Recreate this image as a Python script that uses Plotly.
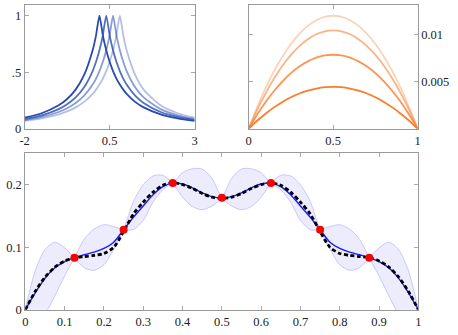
import plotly.graph_objects as go

# ---------------- data: top-left panel ----------------
x_tl = [-2, -1.5, -1, -0.75, -0.5, -0.25, 0, 0.1, 0.2, 0.3, 0.4, 0.5, 0.6, 0.7, 0.8, 0.9, 1,
        1.25, 1.5, 2, 2.5, 3]
y_tl_1 = [0.098, 0.137, 0.207, 0.263, 0.346, 0.476, 0.694, 0.826, 1.0, 0.826, 0.694, 0.592, 0.510,
          0.444, 0.391, 0.346, 0.309, 0.238, 0.189, 0.128, 0.092, 0.069]
y_tl_2 = [0.087, 0.119, 0.174, 0.216, 0.277, 0.367, 0.510, 0.592, 0.694, 0.826, 1.0, 0.826, 0.694,
          0.592, 0.510, 0.444, 0.391, 0.292, 0.227, 0.148, 0.104, 0.077]
y_tl_3 = [0.077, 0.104, 0.148, 0.181, 0.227, 0.292, 0.391, 0.444, 0.510, 0.592, 0.694, 0.826, 1.0,
          0.826, 0.694, 0.592, 0.510, 0.367, 0.277, 0.174, 0.119, 0.087]
y_tl_4 = [0.069, 0.092, 0.128, 0.154, 0.189, 0.238, 0.309, 0.346, 0.391, 0.444, 0.510, 0.592, 0.694,
          0.826, 1.0, 0.826, 0.694, 0.476, 0.346, 0.207, 0.137, 0.098]
tl_xticks = [-2, 0.5, 3]
tl_xlabels = ["-2", "0.5", "3"]
tl_yticks = [0, 0.5, 1]
tl_ylabels = ["0", ".5", "1"]

# ---------------- data: top-right panel ----------------
x_tr = [0, 0.05, 0.1, 0.15, 0.2, 0.25, 0.3, 0.35, 0.4, 0.45, 0.5,
        0.55, 0.6, 0.65, 0.7, 0.75, 0.8, 0.85, 0.9, 0.95, 1]
y_tr_1 = [0, 0.00228, 0.00432, 0.00612, 0.00768, 0.0090, 0.01008, 0.01092, 0.01152, 0.01188, 0.0120,
          0.01188, 0.01152, 0.01092, 0.01008, 0.0090, 0.00768, 0.00612, 0.00432, 0.00228, 0]
y_tr_2 = [0, 0.00199, 0.00376, 0.00533, 0.00669, 0.00784, 0.00878, 0.00951, 0.01003, 0.01035, 0.01045,
          0.01035, 0.01003, 0.00951, 0.00878, 0.00784, 0.00669, 0.00533, 0.00376, 0.00199, 0]
y_tr_3 = [0, 0.00149, 0.00283, 0.00401, 0.00503, 0.0059, 0.0066, 0.00715, 0.00755, 0.00778, 0.00786,
          0.00778, 0.00755, 0.00715, 0.0066, 0.0059, 0.00503, 0.00401, 0.00283, 0.00149, 0]
y_tr_4 = [0, 0.00085, 0.0016, 0.00227, 0.00285, 0.00334, 0.00374, 0.00405, 0.00427, 0.00441, 0.00445,
          0.00441, 0.00427, 0.00405, 0.00374, 0.00334, 0.00285, 0.00227, 0.0016, 0.00085, 0]
tr_xticks = [0, 0.5, 1]
tr_xlabels = ["0", "0.5", "1"]
tr_yticks = [0.005, 0.01]
tr_ylabels = ["0.005", "0.01"]

# ---------------- data: bottom panel ----------------
x_b = [0, 0.025, 0.05, 0.075, 0.1, 0.125, 0.15, 0.175, 0.2, 0.225, 0.25, 0.275, 0.3, 0.325, 0.35,
       0.375, 0.4, 0.425, 0.45, 0.475, 0.5, 0.525, 0.55, 0.575, 0.6, 0.625, 0.65, 0.675, 0.7,
       0.725, 0.75, 0.775, 0.8, 0.825, 0.85, 0.875, 0.9, 0.925, 0.95, 0.975, 1]
mean_b = [0, 0.027, 0.050, 0.067, 0.077, 0.083, 0.088, 0.092, 0.098, 0.108, 0.128, 0.148, 0.166,
          0.184, 0.197, 0.2025, 0.201, 0.195, 0.187, 0.181, 0.179, 0.181, 0.187, 0.195, 0.201,
          0.2025, 0.197, 0.184, 0.166, 0.148, 0.128, 0.108, 0.098, 0.092, 0.088, 0.083, 0.077,
          0.067, 0.050, 0.027, 0]
true_b = [0, 0.029, 0.052, 0.068, 0.078, 0.083, 0.085, 0.087, 0.090, 0.100, 0.125, 0.153, 0.172,
          0.188, 0.199, 0.203, 0.200, 0.194, 0.186, 0.180, 0.178, 0.180, 0.186, 0.194, 0.200,
          0.203, 0.199, 0.188, 0.172, 0.153, 0.125, 0.100, 0.090, 0.087, 0.085, 0.083, 0.078,
          0.068, 0.052, 0.029, 0]
band_a = [0, 0.062, 0.096, 0.108, 0.099, 0.083, 0.067, 0.063, 0.072, 0.097, 0.128, 0.173, 0.200,
          0.214, 0.215, 0.2025, 0.180, 0.165, 0.160, 0.166, 0.179, 0.210, 0.225, 0.2255, 0.219,
          0.2025, 0.192, 0.172, 0.143, 0.128, 0.128, 0.133, 0.136, 0.129, 0.113, 0.083, 0.054,
          0.022, -0.007, -0.025, 0]
band_b = [0, -0.025, -0.007, 0.022, 0.054, 0.083, 0.113, 0.129, 0.136, 0.133, 0.128, 0.128, 0.143,
          0.172, 0.192, 0.2025, 0.219, 0.2255, 0.225, 0.210, 0.179, 0.166, 0.160, 0.165, 0.180,
          0.2025, 0.215, 0.214, 0.200, 0.173, 0.128, 0.097, 0.072, 0.063, 0.067, 0.083, 0.099,
          0.108, 0.096, 0.062, 0]
pts_x = [0.125, 0.25, 0.375, 0.5, 0.625, 0.75, 0.875]
pts_y = [0.083, 0.128, 0.2025, 0.179, 0.2025, 0.128, 0.083]
b_xticks = [0, 0.1, 0.2, 0.3, 0.4, 0.5, 0.6, 0.7, 0.8, 0.9, 1]
b_xlabels = ["0", "0.1", "0.2", "0.3", "0.4", "0.5", "0.6", "0.7", "0.8", "0.9", "1"]
b_yticks = [0, 0.1, 0.2]
b_ylabels = ["0", "0.1", "0.2"]

W, H = 458, 335
FONT = dict(family="Liberation Serif", size=12.5, color="#222222")
FRAME = "#9a9a9a"

fig = go.Figure()

# top-left curves
blue_cols = ["rgba(40,75,175,1)", "rgba(40,75,175,0.8)", "rgba(40,75,175,0.55)", "rgba(40,75,175,0.35)"]
for ys, c in zip([y_tl_1, y_tl_2, y_tl_3, y_tl_4], blue_cols):
    fig.add_trace(go.Scatter(x=x_tl, y=ys, mode="lines", xaxis="x", yaxis="y",
                             line=dict(color=c, width=1.8, shape="spline", smoothing=0.6),
                             showlegend=False, hoverinfo="skip"))

# top-right curves
orange_cols = ["rgba(245,160,100,0.45)", "rgba(248,140,70,0.65)", "rgba(250,130,50,0.85)", "rgba(252,125,40,1)"]
for ys, c in zip([y_tr_1, y_tr_2, y_tr_3, y_tr_4], orange_cols):
    fig.add_trace(go.Scatter(x=x_tr, y=ys, mode="lines", xaxis="x2", yaxis="y2",
                             line=dict(color=c, width=1.8, shape="spline", smoothing=1.0),
                             showlegend=False, hoverinfo="skip"))

# bottom panel
BAND_LINE = dict(color="rgba(170,170,250,0.6)", width=1, shape="spline", smoothing=0.8)
fig.add_trace(go.Scatter(x=x_b, y=band_a, mode="lines", xaxis="x3", yaxis="y3",
                         line=BAND_LINE, showlegend=False, hoverinfo="skip"))
fig.add_trace(go.Scatter(x=x_b, y=band_b, mode="lines", xaxis="x3", yaxis="y3", fill="tonexty",
                         fillcolor="rgba(200,200,250,0.35)", line=BAND_LINE,
                         showlegend=False, hoverinfo="skip"))
fig.add_trace(go.Scatter(x=x_b, y=mean_b, mode="lines", xaxis="x3", yaxis="y3",
                         line=dict(color="#1a1aff", width=1.4, shape="spline", smoothing=0.8),
                         showlegend=False, hoverinfo="skip"))
fig.add_trace(go.Scatter(x=x_b, y=true_b, mode="lines", xaxis="x3", yaxis="y3",
                         line=dict(color="black", width=2.8, dash="4px,2.5px", shape="spline", smoothing=0.8),
                         showlegend=False, hoverinfo="skip"))
fig.add_trace(go.Scatter(x=pts_x, y=pts_y, mode="markers", xaxis="x3", yaxis="y3",
                         marker=dict(color="#ff0000", size=8, line=dict(width=0)),
                         showlegend=False, hoverinfo="skip"))

def ax(**kw):
    d = dict(showline=True, linecolor=FRAME, linewidth=1, mirror="ticks", ticks="inside",
             ticklen=4, tickcolor="#aaaaaa", tickwidth=1, showgrid=False, zeroline=False,
             tickfont=FONT, tickmode="array", fixedrange=True)
    d.update(kw)
    return d

def px_x(a, b):
    return [a / W, b / W]

def px_y(top, bottom):
    return [1 - bottom / H, 1 - top / H]

fig.update_layout(
    width=W, height=H, margin=dict(l=0, r=0, t=0, b=0),
    paper_bgcolor="white", plot_bgcolor="white",
    font=FONT,
    xaxis=ax(domain=px_x(20, 193), range=[-2, 3], tickvals=tl_xticks, ticktext=tl_xlabels, anchor="y"),
    yaxis=ax(domain=px_y(5, 131.5), range=[0, 1.095], tickvals=tl_yticks, ticktext=tl_ylabels, anchor="x"),
    xaxis2=ax(domain=px_x(248, 420), range=[0, 1], tickvals=tr_xticks, ticktext=tr_xlabels, anchor="y2"),
    yaxis2=ax(domain=px_y(5, 131.5), range=[0, 0.01315], tickvals=tr_yticks, ticktext=tr_ylabels,
              anchor="x2", side="right"),
    xaxis3=ax(domain=px_x(20.7, 420.7), range=[0, 1], tickvals=b_xticks, ticktext=b_xlabels, anchor="y3"),
    yaxis3=ax(domain=px_y(156.7, 316.3), range=[0, 0.25], tickvals=b_yticks, ticktext=b_ylabels, anchor="x3"),
)

fig.write_html("out.html")
